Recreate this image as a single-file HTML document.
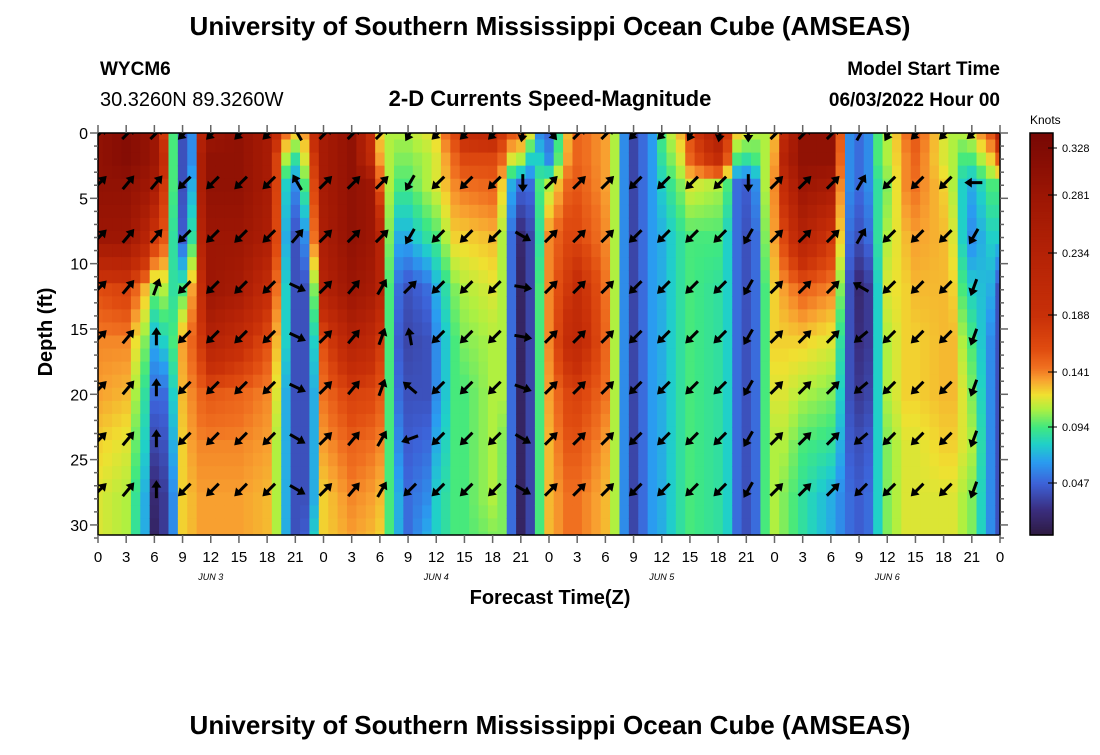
<!DOCTYPE html>
<html><head><meta charset="utf-8">
<style>
body{margin:0;background:#fff;width:1100px;height:750px;overflow:hidden;font-family:"Liberation Sans",Arial,sans-serif}
svg text{font-family:"Liberation Sans",Arial,sans-serif}
</style></head>
<body>
<svg id="chart" width="1100" height="750" xmlns="http://www.w3.org/2000/svg">
<text x="550" y="35" text-anchor="middle" font-size="26" font-weight="bold">University of Southern Mississippi Ocean Cube (AMSEAS)</text>
<text x="100" y="75" font-size="19" font-weight="bold">WYCM6</text>
<text x="100" y="106" font-size="20">30.3260N  89.3260W</text>
<text x="550" y="106" text-anchor="middle" font-size="22" font-weight="bold">2-D Currents Speed-Magnitude</text>
<text x="1000" y="75" text-anchor="end" font-size="19" font-weight="bold">Model Start Time</text>
<text x="1000" y="106" text-anchor="end" font-size="19" font-weight="bold">06/03/2022 Hour 00</text>
<text transform="translate(52,332) rotate(-90)" text-anchor="middle" font-size="20" font-weight="bold">Depth (ft)</text>
<text x="550" y="604" text-anchor="middle" font-size="20" font-weight="bold">Forecast Time(Z)</text>
<text x="1030" y="124" font-size="12">Knots</text>
<text x="550" y="734" text-anchor="middle" font-size="26" font-weight="bold">University of Southern Mississippi Ocean Cube (AMSEAS)</text>
<defs><clipPath id="plotclip"><rect x="98" y="133" width="902" height="402"/></clipPath></defs>
<g id="cells" clip-path="url(#plotclip)"></g>
<g id="arrows" clip-path="url(#plotclip)"></g>
<g id="axes"></g>
<g id="cbar"></g>
</svg>
<script>
const timeNodes=[0,3,5,6,7,8,9,10,11,12,15,18,19,20,21,22,23,24,27,29,30,31,32,33,35,36,38,39,42,43,44,45,46,47,48,50,51,54,55,56,57,58,59,60,62,63,66,67,68,69,70,71,72,73,75,78,79,80,81,82,83,84,86,87,90,91,92,93,95,96];
const depthNodes=[0,2,4,8,12,16,20,24,28,31];
const speed=[
[.30,.30,.30,.28,.16,.14,.135,.125,.118,.118],
[.32,.32,.30,.28,.17,.14,.13,.118,.11,.11],
[.30,.30,.28,.23,.13,.103,.088,.08,.07,.07],
[.28,.28,.26,.18,.103,.07,.05,.035,.02,.015],
[.18,.20,.18,.155,.11,.08,.05,.04,.03,.03],
[.095,.095,.095,.088,.088,.095,.08,.07,.06,.06],
[.04,.04,.04,.045,.095,.135,.13,.125,.125,.125],
[.06,.06,.07,.088,.135,.15,.14,.135,.13,.13],
[.23,.25,.25,.23,.20,.18,.15,.14,.135,.135],
[.28,.30,.30,.28,.28,.23,.155,.14,.135,.135],
[.30,.30,.30,.28,.26,.20,.15,.14,.135,.135],
[.26,.26,.26,.25,.20,.16,.14,.135,.13,.13],
[.20,.17,.17,.165,.145,.13,.118,.11,.11,.11],
[.145,.11,.08,.07,.08,.08,.07,.07,.07,.07],
[.125,.088,.06,.04,.04,.04,.04,.04,.04,.04],
[.135,.118,.095,.06,.04,.04,.04,.04,.04,.045],
[.20,.18,.165,.145,.103,.08,.07,.07,.07,.08],
[.26,.26,.26,.25,.23,.16,.145,.135,.125,.125],
[.30,.30,.30,.30,.28,.23,.17,.15,.14,.135],
[.20,.21,.28,.28,.26,.21,.165,.145,.135,.13],
[.125,.135,.155,.23,.23,.18,.155,.14,.13,.125],
[.11,.11,.11,.103,.095,.095,.095,.095,.095,.095],
[.11,.103,.095,.07,.05,.045,.05,.06,.07,.07],
[.11,.103,.095,.07,.04,.035,.04,.045,.05,.05],
[.118,.11,.11,.088,.05,.04,.04,.05,.06,.07],
[.125,.118,.118,.095,.07,.06,.06,.07,.08,.08],
[.165,.15,.14,.125,.103,.095,.095,.095,.095,.095],
[.20,.165,.145,.125,.11,.103,.095,.095,.095,.095],
[.21,.165,.15,.13,.118,.11,.11,.11,.11,.103],
[.18,.15,.125,.11,.11,.11,.11,.103,.103,.103],
[.155,.118,.07,.05,.05,.05,.05,.05,.05,.05],
[.15,.11,.05,.02,.015,.015,.015,.015,.015,.015],
[.118,.08,.05,.035,.035,.035,.035,.035,.035,.035],
[.06,.08,.095,.088,.095,.095,.095,.095,.095,.095],
[.05,.06,.11,.14,.14,.14,.135,.13,.13,.13],
[.13,.135,.15,.165,.18,.20,.165,.155,.145,.145],
[.15,.15,.155,.165,.20,.21,.17,.155,.145,.145],
[.135,.135,.135,.14,.145,.15,.145,.135,.13,.13],
[.11,.11,.11,.11,.11,.11,.11,.11,.11,.11],
[.06,.06,.06,.06,.06,.06,.06,.06,.06,.06],
[.035,.035,.035,.035,.035,.035,.035,.035,.035,.035],
[.05,.05,.05,.05,.05,.05,.05,.05,.05,.05],
[.065,.065,.065,.065,.065,.065,.065,.065,.065,.065],
[.095,.088,.08,.07,.07,.07,.07,.07,.07,.07],
[.13,.118,.103,.088,.088,.088,.088,.088,.088,.088],
[.16,.15,.118,.095,.095,.095,.095,.095,.095,.095],
[.25,.20,.11,.095,.088,.088,.088,.088,.088,.088],
[.18,.155,.095,.08,.08,.08,.08,.08,.08,.08],
[.125,.095,.05,.05,.05,.05,.05,.05,.05,.05],
[.118,.088,.045,.04,.04,.04,.04,.04,.04,.04],
[.11,.095,.06,.05,.05,.05,.05,.05,.05,.05],
[.11,.11,.11,.103,.095,.095,.095,.095,.095,.095],
[.13,.135,.14,.135,.125,.125,.118,.11,.11,.11],
[.21,.23,.20,.165,.135,.125,.118,.11,.103,.103],
[.30,.30,.28,.23,.15,.125,.11,.095,.088,.088],
[.30,.30,.26,.18,.14,.118,.103,.088,.07,.07],
[.155,.15,.14,.125,.103,.088,.08,.07,.06,.06],
[.06,.06,.06,.05,.04,.04,.04,.045,.05,.05],
[.05,.05,.05,.04,.02,.025,.03,.04,.045,.045],
[.06,.06,.06,.05,.03,.03,.035,.045,.05,.05],
[.095,.095,.088,.088,.08,.08,.08,.08,.08,.08],
[.11,.11,.103,.11,.118,.11,.11,.103,.103,.103],
[.145,.14,.14,.13,.125,.125,.125,.118,.118,.118],
[.155,.15,.145,.135,.13,.125,.125,.118,.118,.118],
[.118,.118,.125,.13,.13,.13,.13,.125,.118,.118],
[.11,.11,.11,.118,.125,.13,.13,.125,.118,.118],
[.11,.095,.08,.08,.095,.11,.118,.118,.11,.11],
[.118,.095,.07,.06,.08,.095,.103,.11,.103,.103],
[.155,.125,.095,.08,.07,.06,.06,.06,.06,.06],
[.23,.155,.095,.08,.04,.04,.04,.04,.04,.04]
];
const arrowTimes=[0,3,6,9,12,15,18,21,24,27,30,33,36,39,42,45,48,51,54,57,60,63,66,69,72,75,78,81,84,87,90,93];
const arrowDepths=[0,3.8,7.9,11.8,15.6,19.5,23.4,27.3];
const arrowDir=[
[45,45,45,45,45,45,45,45],
[45,40,40,40,40,40,40,40],
[45,40,40,20,0,0,0,0],
[225,225,225,225,225,225,225,225],
[225,225,225,225,225,225,225,225],
[225,225,225,225,225,225,225,225],
[225,225,225,225,225,225,225,225],
[330,330,40,115,115,115,120,120],
[45,45,45,45,45,45,45,45],
[45,45,45,40,40,40,40,40],
[45,45,45,30,20,20,30,30],
[210,210,210,45,350,310,250,225],
[225,225,225,225,225,225,225,225],
[225,225,225,225,225,225,225,225],
[225,225,225,225,225,225,225,225],
[190,180,120,100,100,110,120,120],
[140,45,45,45,45,45,45,45],
[45,45,45,45,45,45,45,45],
[45,45,45,45,45,45,45,45],
[225,225,225,225,225,225,225,225],
[225,225,225,225,225,225,225,225],
[210,225,225,225,225,225,225,225],
[190,225,225,225,225,225,225,225],
[180,180,210,210,210,210,210,210],
[45,45,45,45,45,45,45,45],
[45,45,45,45,45,45,45,45],
[45,45,45,45,45,45,45,45],
[30,30,30,300,230,230,230,225],
[210,225,225,225,225,225,225,225],
[225,225,225,225,225,225,225,225],
[225,225,225,225,225,225,225,225],
[230,270,210,200,200,200,200,200]
];
const yTicks=[0,5,10,15,20,25,30];
const xTickLabels=["0","3","6","9","12","15","18","21","0","3","6","9","12","15","18","21","0","3","6","9","12","15","18","21","0","3","6","9","12","15","18","21","0"];
const dayLabels=["JUN 3","JUN 4","JUN 5","JUN 6"];
const cbarLabels=[0.328,0.281,0.234,0.188,0.141,0.094,0.047];

const NS="http://www.w3.org/2000/svg";
const X0=98,X1=1000,Y0=133,Y1=535,TMAX=96,DMAX=30.77;
const xs=t=>X0+(t/TMAX)*(X1-X0);
const ys=d=>Y0+(d/DMAX)*(Y1-Y0);
// colormap stops [value, r,g,b]
const cmap=[[0.003,46,26,64],[0.025,58,46,128],[0.047,61,98,216],[0.065,42,156,240],[0.08,32,208,200],[0.094,64,232,128],[0.11,176,240,64],[0.122,240,224,48],[0.135,248,160,48],[0.145,240,112,32],[0.16,224,76,16],[0.188,200,48,8],[0.234,180,34,6],[0.281,156,22,4],[0.341,120,8,4]];
function col(v){let i=0;while(i<cmap.length-2&&v>cmap[i+1][0])i++;
const a=cmap[i],b=cmap[i+1];const f=Math.max(0,Math.min(1,(v-a[0])/(b[0]-a[0])));
return`rgb(${Math.round(a[1]+(b[1]-a[1])*f)},${Math.round(a[2]+(b[2]-a[2])*f)},${Math.round(a[3]+(b[3]-a[3])*f)})`;}
function mk(tag,attrs,parent){const e=document.createElementNS(NS,tag);for(const k in attrs)e.setAttribute(k,attrs[k]);parent.appendChild(e);return e;}
function interp(nodes,v){let i=0;while(i<nodes.length-2&&v>nodes[i+1])i++;const f=Math.max(0,Math.min(1,(v-nodes[i])/(nodes[i+1]-nodes[i])));return[i,f];}
function val(t,d){const[ti,tf]=interp(timeNodes,t);const[di,df]=interp(depthNodes,d);
const a=speed[ti][di]*(1-df)+speed[ti][di+1]*df;const b=speed[ti+1][di]*(1-df)+speed[ti+1][di+1]*df;return a*(1-tf)+b*tf;}
const cells=document.getElementById('cells');
for(let t=0;t<=96;t++){for(let d=0;d<=31;d++){
const x=xs(t-0.5),y=ys(d-0.5);
const r=mk('rect',{x:x.toFixed(2),y:y.toFixed(2),width:(xs(1)-xs(0)+0.6).toFixed(2),height:(ys(1)-ys(0)+0.6).toFixed(2),fill:col(val(t,d))},cells);

}}
const ag=document.getElementById('arrows');
arrowTimes.forEach((t,i)=>arrowDepths.forEach((d,j)=>{
const a=arrowDir[i][j]*Math.PI/180,L=8.5;const cx=xs(t)+2,cy=ys(d);
const dx=Math.sin(a),dy=-Math.cos(a);
const g=mk('g',{},ag);


mk('line',{x1:cx-dx*L,y1:cy-dy*L,x2:cx+dx*(L-5),y2:cy+dy*(L-5),stroke:'#000','stroke-width':3},g);
const hx=cx+dx*(L+1),hy=cy+dy*(L+1),bx=cx+dx*(L-6.5),by=cy+dy*(L-6.5),px=-dy,py=dx;
mk('polygon',{points:`${hx},${hy} ${bx+px*5},${by+py*5} ${bx-px*5},${by-py*5}`,fill:'#000'},g);
}));
const ax=document.getElementById('axes');
const fr=mk('rect',{x:X0,y:Y0,width:X1-X0,height:Y1-Y0,fill:'none',stroke:'#000','stroke-width':1.5},ax);

for(let d=0;d<=31;d++){const y=ys(d),L=d%5===0?8:4;
mk('line',{x1:X0-L,y1:y,x2:X0,y2:y,stroke:'#666','stroke-width':1.5},ax);
mk('line',{x1:X1,y1:y,x2:X1+L,y2:y,stroke:'#666','stroke-width':1.5},ax);}
yTicks.forEach(v=>{const t=mk('text',{x:X0-10,y:ys(v)+6,'text-anchor':'end','font-size':16},ax);t.textContent=v;
});
xTickLabels.forEach((lab,i)=>{const x=xs(i*3);
mk('line',{x1:x,y1:Y0-8,x2:x,y2:Y0,stroke:'#666','stroke-width':1.5},ax);
mk('line',{x1:x,y1:Y1,x2:x,y2:Y1+8,stroke:'#666','stroke-width':1.5},ax);
const t=mk('text',{x:x,y:Y1+27,'text-anchor':'middle','font-size':15},ax);t.textContent=lab;
});
dayLabels.forEach((lab,i)=>{const t=mk('text',{x:xs(12+24*i),y:Y1+45,'text-anchor':'middle','font-size':9,'font-style':'italic','font-family':'Liberation Mono, monospace'},ax);t.textContent=lab;
});
// colorbar: value->pixel via label positions
const cbVals=[0.003,0.047,0.094,0.141,0.188,0.234,0.281,0.328,0.341];
const cbPix=[535,483,427,372,315,253,195,148,133];
function cy(v){let i=0;while(i<cbVals.length-2&&v>cbVals[i+1])i++;const f=(v-cbVals[i])/(cbVals[i+1]-cbVals[i]);return cbPix[i]+(cbPix[i+1]-cbPix[i])*f;}
const cb=document.getElementById('cbar');
const CX=1030,CW=23;
for(let i=0;i<240;i++){const v0=0.003+(0.338)*i/240,v1=0.003+0.338*(i+1)/240;
const r=mk('rect',{x:CX,y:cy(v1),width:CW,height:cy(v0)-cy(v1)+0.6,fill:col((v0+v1)/2)},cb);
}
mk('rect',{x:CX,y:Y0,width:CW,height:Y1-Y0,fill:'none',stroke:'#000','stroke-width':1.5},cb);
cbarLabels.forEach(v=>{const y=cy(v);
mk('line',{x1:CX+CW-5,y1:y,x2:CX+CW+4,y2:y,stroke:'#000'},cb);
const t=mk('text',{x:CX+CW+9,y:y+4,'font-size':11},cb);t.textContent=v.toFixed(3);
});
</script>
</body></html>
